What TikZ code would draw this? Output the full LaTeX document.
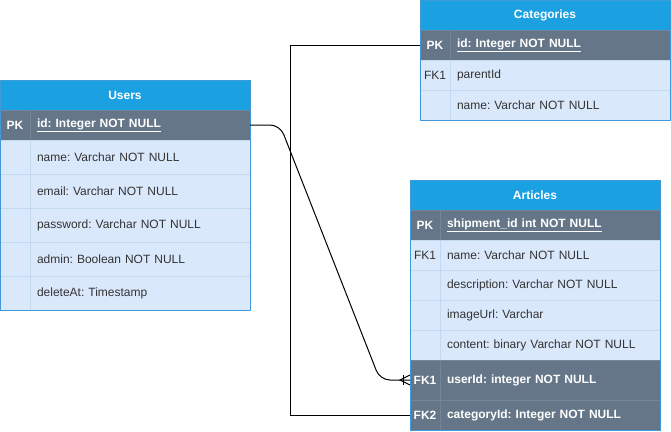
\documentclass[tikz,border=0pt]{standalone}
\usepackage{fontspec}
\setmainfont{Liberation Sans}
\usetikzlibrary{positioning}
\frenchspacing

\newlength{\du}
\setlength{\du}{1pt}

\definecolor{headcolor}{rgb}{0.105882, 0.631373, 0.886275}
\definecolor{darkrowcolor}{rgb}{0.392157, 0.462745, 0.529412}
\definecolor{darkseparator}{rgb}{0.450000, 0.520000, 0.590000}
\definecolor{lightrowcolor}{rgb}{0.854902, 0.909804, 0.988235}
\definecolor{lightseparator}{rgb}{0.760000, 0.850000, 0.950000}
\definecolor{bordercolor}{rgb}{0.250000, 0.600000, 0.850000}
\definecolor{fieldtextcolor}{rgb}{0.200000, 0.200000, 0.200000}

\tikzset{
  cell/.style={rectangle, anchor=north west, inner sep=0pt, outer sep=0pt,
    minimum height=30\du, font=\fontsize{12}{14}\selectfont},
  headcell/.style={cell, fill=headcolor, draw=bordercolor, text=white,
    minimum width=250\du, font=\fontsize{12}{14}\selectfont\bfseries},
  keycell/.style={cell, minimum width=30\du},
  fieldcell/.style={cell, text width=206\du, inner xsep=7\du, align=left},
  lightrow/.style={fill=lightrowcolor, draw=lightseparator, text=fieldtextcolor},
  darkrow/.style={fill=darkrowcolor, draw=darkseparator, text=white,
    font=\fontsize{12}{14}\selectfont\bfseries},
  relation/.style={draw=black, line width=1\du},
}

\begin{document}
\begin{tikzpicture}
\pgftransformxscale{1.000000}
\pgftransformyscale{-1.000000}
\useasboundingbox (0\du,0\du) rectangle (671\du,431\du);

% Users
\node[headcell] (usersHead) at (0\du,80\du) {Users};
\node[keycell, darkrow, below right=0pt and 0pt of usersHead.south west] (usersPKk) {PK};
\node[fieldcell, darkrow, right=0pt of usersPKk] (usersPK) {\underline{id: Integer NOT NULL}};
\node[keycell, lightrow, minimum height=34\du, below=0pt of usersPKk] (usersK1) {};
\node[fieldcell, lightrow, minimum height=34\du, right=0pt of usersK1] (usersF1) {name: Varchar NOT NULL};
\node[keycell, lightrow, minimum height=34\du, below=0pt of usersK1] (usersK2) {};
\node[fieldcell, lightrow, minimum height=34\du, right=0pt of usersK2] (usersF2) {email: Varchar NOT NULL};
\node[keycell, lightrow, minimum height=34\du, below=0pt of usersK2] (usersK3) {};
\node[fieldcell, lightrow, minimum height=34\du, right=0pt of usersK3] (usersF3) {password: Varchar NOT NULL};
\node[keycell, lightrow, minimum height=34\du, below=0pt of usersK3] (usersK4) {};
\node[fieldcell, lightrow, minimum height=34\du, right=0pt of usersK4] (usersF4) {admin: Boolean NOT NULL};
\node[keycell, lightrow, minimum height=34\du, below=0pt of usersK4] (usersK5) {};
\node[fieldcell, lightrow, minimum height=34\du, right=0pt of usersK5] (usersF5) {deleteAt: Timestamp};
\draw[bordercolor] (usersHead.north west) rectangle (usersF5.south east);

% Categories
\node[headcell] (catHead) at (420\du,0\du) {Categories};
\node[keycell, darkrow, below right=0pt and 0pt of catHead.south west] (catPKk) {PK};
\node[fieldcell, darkrow, right=0pt of catPKk] (catPK) {\underline{id: Integer NOT NULL}};
\node[keycell, lightrow, below=0pt of catPKk] (catK1) {FK1};
\node[fieldcell, lightrow, right=0pt of catK1] (catF1) {parentId};
\node[keycell, lightrow, below=0pt of catK1] (catK2) {};
\node[fieldcell, lightrow, right=0pt of catK2] (catF2) {name: Varchar NOT NULL};
\draw[bordercolor] (catHead.north west) rectangle (catF2.south east);

% Articles
\node[headcell] (artHead) at (410\du,180\du) {Articles};
\node[keycell, darkrow, below right=0pt and 0pt of artHead.south west] (artPKk) {PK};
\node[fieldcell, darkrow, right=0pt of artPKk] (artPK) {\underline{shipment\_id int NOT NULL}};
\node[keycell, lightrow, below=0pt of artPKk] (artK1) {FK1};
\node[fieldcell, lightrow, right=0pt of artK1] (artF1) {name: Varchar NOT NULL};
\node[keycell, lightrow, below=0pt of artK1] (artK2) {};
\node[fieldcell, lightrow, right=0pt of artK2] (artF2) {description: Varchar NOT NULL};
\node[keycell, lightrow, below=0pt of artK2] (artK3) {};
\node[fieldcell, lightrow, right=0pt of artK3] (artF3) {imageUrl: Varchar};
\node[keycell, lightrow, below=0pt of artK3] (artK4) {};
\node[fieldcell, lightrow, right=0pt of artK4] (artF4) {content: binary Varchar NOT NULL};
\node[keycell, darkrow, minimum height=40\du, below=0pt of artK4] (artUserk) {FK1};
\node[fieldcell, darkrow, minimum height=40\du, right=0pt of artUserk] (artUser) {userId: integer NOT NULL};
\node[keycell, darkrow, below=0pt of artUserk] (artCatk) {FK2};
\node[fieldcell, darkrow, right=0pt of artCatk] (artCat) {categoryId: Integer NOT NULL};
\draw[bordercolor] (artHead.north west) rectangle (artCat.south east);

% relations
\draw[relation, rounded corners=10\du] (usersPK.east) -- ([xshift=30\du]usersPK.east)
  -- ([xshift=-30\du]artUserk.west) -- (artUserk.west);
\draw[relation] ([xshift=-7\du, yshift=-5\du]artUserk.west) -- ([xshift=-7\du, yshift=5\du]artUserk.west);
\draw[relation] ([yshift=-5\du]artUserk.west) -- ([xshift=-10\du]artUserk.west) -- ([yshift=5\du]artUserk.west);
\draw[relation] (catPKk.west) -| ([xshift=-120\du]artCatk.west) -- (artCatk.west);
\end{tikzpicture}
\end{document}
